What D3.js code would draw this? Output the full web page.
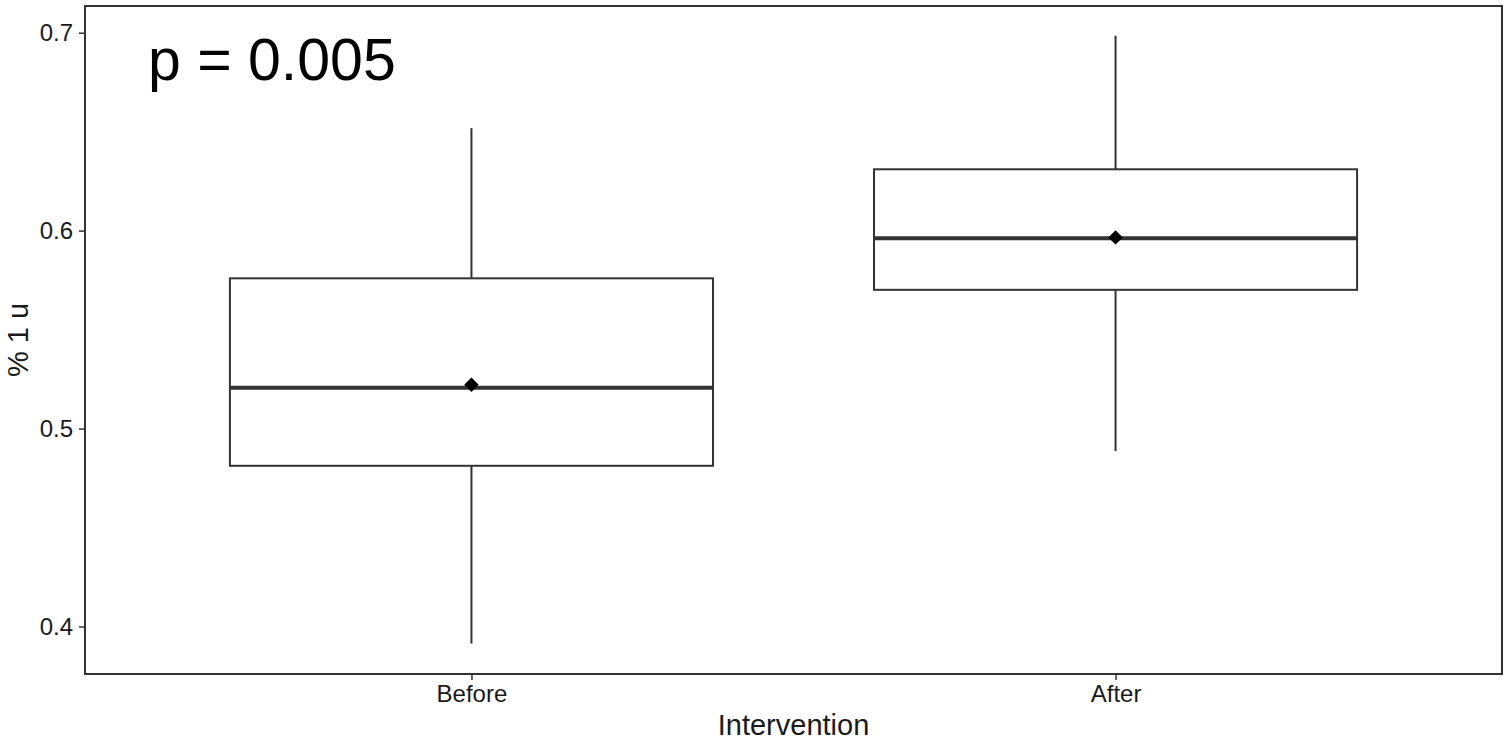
<!DOCTYPE html>
<html><head><meta charset="utf-8">
<script src="https://cdn.jsdelivr.net/npm/d3@7"></script>
<style>body{margin:0;background:#fff}svg{display:block}text{font-family:"Liberation Sans",Arial,sans-serif}</style>
</head><body>
<svg id="c" width="1508" height="743"></svg>
<script>
const categories = ["Before", "After"];
const whiskerLow = [0.3914, 0.4886];
const q1 = [0.4812, 0.5701];
const median = [0.5206, 0.5962];
const q3 = [0.5759, 0.6310];
const whiskerHigh = [0.6518, 0.6985];
const means = [0.5221, 0.5966];
const yTicks = [0.4, 0.5, 0.6, 0.7];
const annotation = "p = 0.005";
const xTitle = "Intervention";
const yTitle = "% 1 u";

const svg = d3.select("#c");
const L = 85, R = 1502, T = 6, B = 674;
const y = d3.scaleLinear().domain([0.376, 0.7135]).range([B, T]);
// ggplot-style discrete positions 1..n, limits 0.4..n+0.6
const xc = d3.scaleLinear().domain([0.4, categories.length + 0.6]).range([L, R]);
const unit = xc(2) - xc(1);
const boxW = 0.75 * unit;
const col = "#333333";

const data = categories.map((c, i) => ({c, i, lo: whiskerLow[i], q1: q1[i], md: median[i], q3: q3[i], hi: whiskerHigh[i], mean: means[i]}));

const g = svg.append("g");
data.forEach(d => {
  const cx = xc(d.i + 1);
  g.append("line").attr("x1", cx).attr("x2", cx).attr("y1", y(d.hi)).attr("y2", y(d.q3)).attr("stroke", col).attr("stroke-width", 2);
  g.append("line").attr("x1", cx).attr("x2", cx).attr("y1", y(d.q1)).attr("y2", y(d.lo)).attr("stroke", col).attr("stroke-width", 2);
  g.append("rect").attr("x", cx - boxW / 2).attr("y", y(d.q3)).attr("width", boxW).attr("height", y(d.q1) - y(d.q3))
    .attr("fill", "#fff").attr("stroke", col).attr("stroke-width", 2);
  g.append("line").attr("x1", cx - boxW / 2).attr("x2", cx + boxW / 2).attr("y1", y(d.md)).attr("y2", y(d.md)).attr("stroke", col).attr("stroke-width", 4);
  g.append("path").attr("d", d3.symbol(d3.symbolSquare, 105)()).attr("transform", `translate(${cx},${y(d.mean)}) rotate(45)`).attr("fill", "#000");
});

// panel border
svg.append("rect").attr("x", L).attr("y", T).attr("width", R - L).attr("height", B - T).attr("fill", "none").attr("stroke", col).attr("stroke-width", 2);

// y axis
const ya = svg.append("g").attr("transform", `translate(${L},0)`).call(d3.axisLeft(y).tickValues(yTicks).tickFormat(d3.format(".1f")).tickSize(6).tickPadding(6));
ya.select(".domain").remove();
ya.selectAll("line").attr("stroke", col).attr("stroke-width", 1.5);
ya.selectAll("text").attr("font-size", 24).attr("fill", "#1a1a1a").attr("font-family", "Liberation Sans, Arial, sans-serif");

// x axis
const xa = svg.append("g").attr("transform", `translate(0,${B})`).call(d3.axisBottom(xc).tickValues(categories.map((c, i) => i + 1)).tickFormat((v) => categories[v - 1]).tickSize(6).tickPadding(5));
xa.select(".domain").remove();
xa.selectAll("line").attr("stroke", col).attr("stroke-width", 1.5);
xa.selectAll("text").attr("font-size", 24).attr("fill", "#1a1a1a").attr("font-family", "Liberation Sans, Arial, sans-serif");

svg.append("text").attr("x", (L + R) / 2).attr("y", 735).attr("text-anchor", "middle").attr("font-size", 29).attr("fill", "#1a1a1a").text(xTitle);
svg.append("text").attr("transform", `translate(28,${(T + B) / 2}) rotate(-90)`).attr("text-anchor", "middle").attr("font-size", 29).attr("fill", "#1a1a1a").text(yTitle);
svg.append("text").attr("x", 148).attr("y", 80).attr("font-size", 59).attr("fill", "#000").text(annotation);
</script>
</body></html>
